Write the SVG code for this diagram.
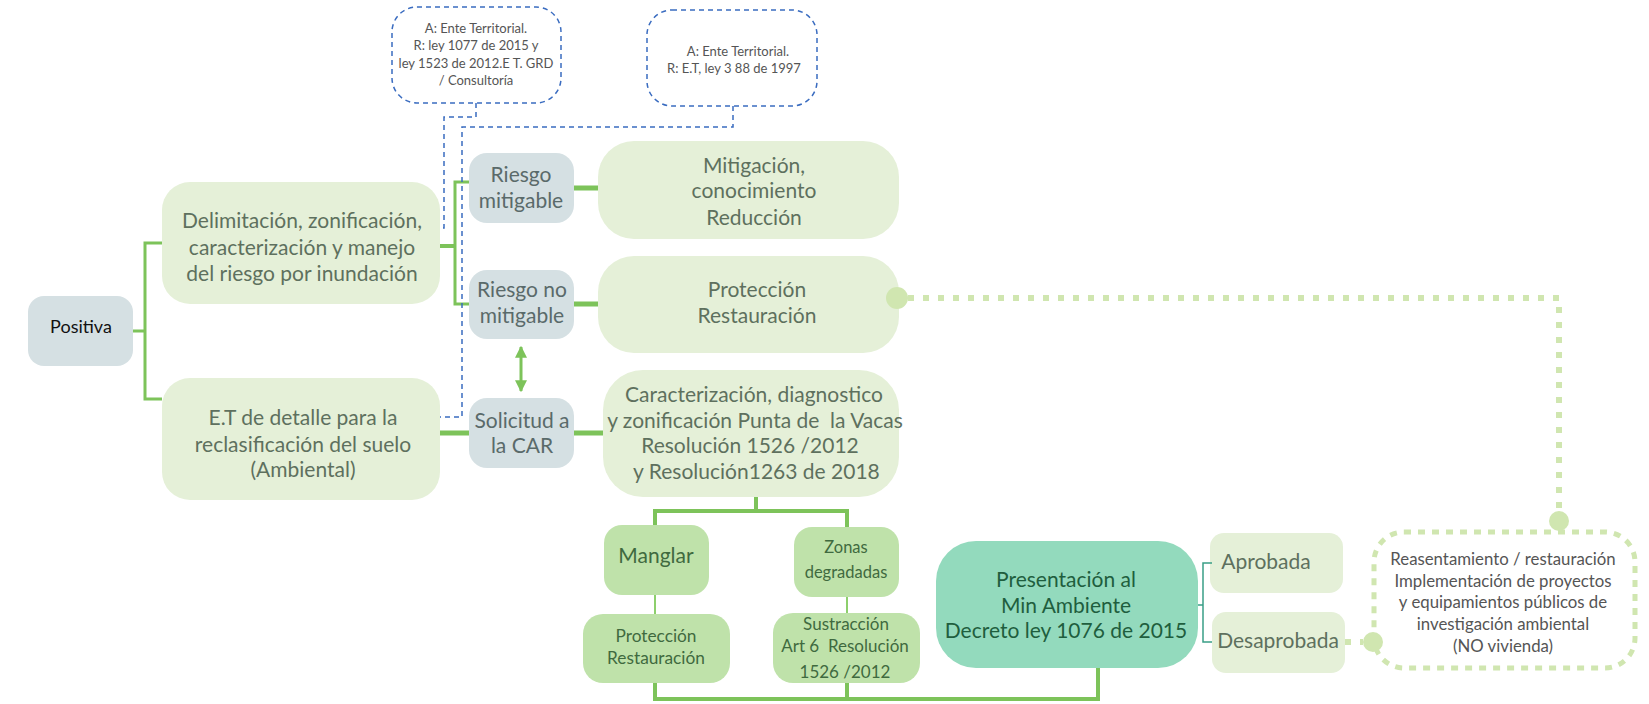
<svg xmlns="http://www.w3.org/2000/svg" width="1649" height="704" viewBox="0 0 1649 704">
<defs>
<style>
text{font-family:Lato,"Liberation Sans",sans-serif;text-anchor:middle;white-space:pre}
.lg{fill:#e5f0d8}
.bg{fill:#d5e0e3}
.mg{fill:#bfe2aa}
.mint{fill:#93dabd}
.t-lg{fill:#5e705e;font-size:21px}
.t-bg{fill:#5a6a6a;font-size:21px}
.t-mg{fill:#3f6a3f}
.t-note{fill:#555;font-size:13px}
.t-re{fill:#555;font-size:16.8px}
.blue{fill:none;stroke:#3a6cc0;stroke-width:1.5;stroke-dasharray:5 4}
.g{fill:none;stroke:#7dc35a;stroke-linejoin:miter}
.gthin{fill:none;stroke:#8dcf6c;stroke-width:2}
.dot{fill:none;stroke:#d0e6b0;stroke-width:6;stroke-dasharray:6 9}
.dotc{fill:#d0e6b0}
</style>
<marker id="ah" viewBox="0 0 10 10" refX="9" refY="5" markerWidth="4" markerHeight="4" orient="auto-start-reverse" markerUnits="strokeWidth">
<path d="M0,0 L10,5 L0,10 z" fill="#7dc35a"/>
</marker>
</defs>

<g id="note1">
<rect x="392" y="7" width="169" height="96" rx="25" class="blue"/>
<text class="t-note" x="476" y="33">A: Ente Territorial.</text>
<text class="t-note" x="476" y="50">R: ley 1077 de 2015 y</text>
<text class="t-note" x="476" y="68">ley 1523 de 2012.E T. GRD</text>
<text class="t-note" x="476" y="85">/ Consultoría</text>
</g>
<g id="note2">
<rect x="647" y="10" width="170" height="96" rx="25" class="blue"/>
<text class="t-note" x="738" y="56">A: Ente Territorial.</text>
<text class="t-note" x="734" y="73">R: E.T, ley 3 88 de 1997</text>
</g>

<g id="positiva">
<rect x="28" y="296" width="105" height="70" rx="16" class="bg"/>
<text x="81" y="333" style="font-size:18px;fill:#111">Positiva</text>
</g>
<g id="delimitacion">
<rect x="162" y="182" width="278" height="122" rx="28" class="lg"/>
<text class="t-lg" x="302" y="228">Delimitación, zonificación,</text>
<text class="t-lg" x="302" y="255">caracterización y manejo</text>
<text class="t-lg" x="302" y="281">del riesgo por inundación</text>
</g>
<g id="et-detalle">
<rect x="162" y="378" width="278" height="122" rx="28" class="lg"/>
<text class="t-lg" x="303" y="425">E.T de detalle para la</text>
<text class="t-lg" x="303" y="452">reclasificación del suelo</text>
<text class="t-lg" x="303" y="477">(Ambiental)</text>
</g>
<g id="riesgo-mitigable">
<rect x="469" y="153" width="105" height="70" rx="18" class="bg"/>
<text class="t-bg" x="521" y="182">Riesgo</text>
<text class="t-bg" x="521" y="208">mitigable</text>
</g>
<g id="riesgo-no-mitigable">
<rect x="469" y="270" width="105" height="69" rx="18" class="bg"/>
<text class="t-bg" x="522" y="297">Riesgo no</text>
<text class="t-bg" x="522" y="323">mitigable</text>
</g>
<g id="solicitud">
<rect x="469" y="398" width="105" height="70" rx="18" class="bg"/>
<text class="t-bg" x="522" y="428">Solicitud a</text>
<text class="t-bg" x="522" y="453">la CAR</text>
</g>
<g id="mitigacion">
<rect x="598" y="141" width="301" height="98" rx="36" class="lg"/>
<text class="t-lg" x="754" y="173">Mitigación,</text>
<text class="t-lg" x="754" y="198">conocimiento</text>
<text class="t-lg" x="754" y="225">Reducción</text>
</g>
<g id="proteccion">
<rect x="598" y="256" width="301" height="97" rx="36" class="lg"/>
<text class="t-lg" x="757" y="297">Protección</text>
<text class="t-lg" x="757" y="323">Restauración</text>
</g>
<g id="caracterizacion">
<rect x="603" y="370" width="296" height="127" rx="40" class="lg"/>
<text class="t-lg" x="754" y="402">Caracterización, diagnostico</text>
<text class="t-lg" x="755" y="428">y zonificación Punta de  la Vacas</text>
<text class="t-lg" x="750" y="453">Resolución 1526 /2012</text>
<text class="t-lg" x="754" y="479"> y Resolución1263 de 2018</text>
</g>
<g id="manglar">
<rect x="604" y="525" width="105" height="70" rx="18" class="mg"/>
<text class="t-mg" x="656" y="563" style="font-size:21px">Manglar</text>
</g>
<g id="proteccion-manglar">
<rect x="583" y="614" width="147" height="69" rx="20" class="mg"/>
<text class="t-mg" x="656" y="642" style="font-size:17.3px">Protección</text>
<text class="t-mg" x="656" y="664" style="font-size:17.3px">Restauración</text>
</g>
<g id="zonas">
<rect x="794" y="527" width="105" height="70" rx="18" class="mg"/>
<text class="t-mg" x="846" y="553" style="font-size:16.5px">Zonas</text>
<text class="t-mg" x="846" y="578" style="font-size:16.5px">degradadas</text>
</g>
<g id="sustraccion">
<rect x="773" y="613" width="147" height="70" rx="20" class="mg"/>
<text class="t-mg" x="846" y="630" style="font-size:17px">Sustracción</text>
<text class="t-mg" x="845" y="652" style="font-size:17px">Art 6  Resolución</text>
<text class="t-mg" x="845" y="678" style="font-size:17px">1526 /2012</text>
</g>
<g id="presentacion">
<rect x="936" y="541" width="262" height="127" rx="40" class="mint"/>
<text x="1066" y="587" style="font-size:21px;fill:#1f5e3e">Presentación al</text>
<text x="1066" y="613" style="font-size:21px;fill:#1f5e3e">Min Ambiente</text>
<text x="1066" y="638" style="font-size:21px;fill:#1f5e3e">Decreto ley 1076 de 2015</text>
</g>
<g id="aprobada">
<rect x="1210" y="533" width="133" height="60" rx="14" class="lg"/>
<text class="t-lg" x="1266" y="569">Aprobada</text>
</g>
<g id="desaprobada">
<rect x="1212" y="612" width="133" height="61" rx="14" class="lg"/>
<text class="t-lg" x="1278" y="648">Desaprobada</text>
</g>
<g id="reasentamiento">
<rect x="1374" y="532" width="261" height="136" rx="30" fill="none" stroke="#d0e6b0" stroke-width="5" stroke-dasharray="7 7"/>
<text class="t-re" x="1503" y="565">Reasentamiento / restauración</text>
<text class="t-re" x="1503" y="587">Implementación de proyectos</text>
<text class="t-re" x="1503" y="608">y equipamientos públicos de</text>
<text class="t-re" x="1503" y="630">investigación ambiental</text>
<text class="t-re" x="1503" y="652">(NO vivienda)</text>
</g>

<g id="connectors">
<path class="g" stroke-width="3" d="M133 331 H145 M162 243 H145 V399 H162"/>
<path class="g" stroke-width="4" d="M440 246 H455"/>
<path class="g" stroke-width="3" d="M469 182 H455 V304 H469"/>
<path class="g" stroke-width="5" d="M574 188 H598 M574 304 H598 M440 433 H469 M574 433 H603"/>
<path class="g" stroke-width="3" d="M521 347 V391" marker-start="url(#ah)" marker-end="url(#ah)"/>
<path class="g" stroke-width="4" d="M756 497 V511 M655 525 V511 H847 V527"/>
<path class="gthin" d="M655 595 V614 M847 597 V613"/>
<path class="g" stroke-width="4" d="M655 683 V699 H1098 V668 M847 683 V699"/>
<path fill="none" stroke="#3a9e86" stroke-width="1.5" d="M1198 605 H1203 M1212 563 H1203 V642 H1212"/>
<path class="blue" d="M476 103 V117 H444 V228 H440"/>
<path class="blue" d="M733 106 V127 H462 V417 H440"/>
<path class="dot" d="M908 298 H1559 V510"/>
<path class="dot" d="M1345 642 H1363"/>
<circle class="dotc" cx="897" cy="298" r="11"/>
<circle class="dotc" cx="1559" cy="521" r="10"/>
<circle class="dotc" cx="1373" cy="642" r="10"/>
</g>
</svg>
